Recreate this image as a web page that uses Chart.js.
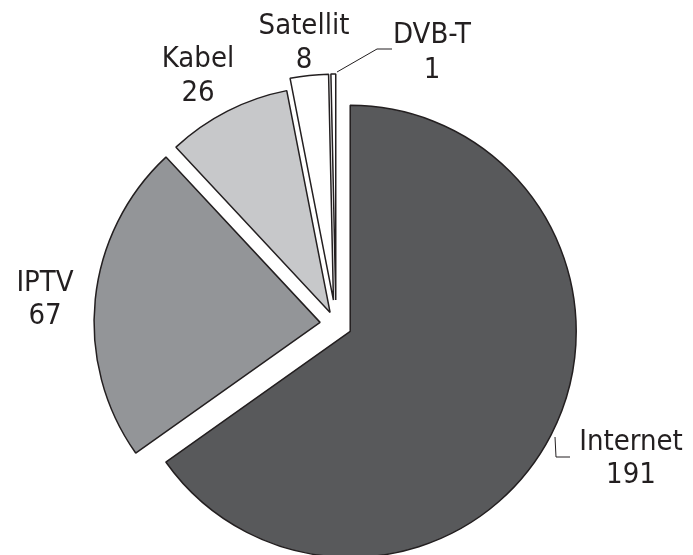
<!DOCTYPE html>
<html>
<head>
<meta charset="utf-8">
<script src="https://cdn.jsdelivr.net/npm/chart.js@4/dist/chart.umd.min.js"></script>
<style>
  html, body { margin: 0; padding: 0; background: #ffffff; }
  #wrap { width: 693px; height: 555px; }
</style>
</head>
<body>
<div id="wrap"><canvas id="pie" width="693" height="555"></canvas></div>
<script>
"use strict";

// Data
const labels = ["Internet", "IPTV", "Kabel", "Satellit", "DVB-T"];
const values = [191, 67, 26, 8, 1];

// Styling
const fills = ["#58595b", "#939598", "#c7c8ca", "#ffffff", "#ffffff"];
const explode = [16, 16, 13, 24, 24];   // px each slice is pulled out
const labelSpots = [                     // [x, baseline of name, baseline of value]
    [631, 450, 483],
    [45, 291, 324],
    [198, 67, 101],
    [304, 34, 68],
    [432, 43, 78]
];
const leaders = {
    0: [[555, 437], [556, 457], [570, 457]],
    4: [[337, 72], [377, 49], [392, 49]]
};

// pull slices out along their middle angle
const explodePlugin = {
    id: "explode",
    afterDatasetsUpdate(chart) {
        let arcs = chart.getDatasetMeta(0).data;
        arcs.forEach(function(arc, i) {
            let mid = (arc.startAngle + arc.endAngle) / 2;
            arc.x += Math.cos(mid) * explode[i];
            arc.y += Math.sin(mid) * explode[i];
        });
    }
};

// names and values next to the slices
const labelPlugin = {
    id: "sliceLabels",
    afterDraw(chart) {
        let ctx = chart.ctx;
        ctx.save();
        ctx.strokeStyle = "#231f20";
        ctx.lineWidth = 1;
        Object.keys(leaders).forEach(function(k) {
            let pts = leaders[k];
            ctx.beginPath();
            ctx.moveTo(pts[0][0], pts[0][1]);
            for (let j = 1; j < pts.length; j++) {
                ctx.lineTo(pts[j][0], pts[j][1]);
            }
            ctx.stroke();
        });
        ctx.fillStyle = "#231f20";
        ctx.font = '29px "DejaVu Sans Condensed", "DejaVu Sans", sans-serif';
        if ("fontStretch" in ctx) ctx.fontStretch = "condensed";
        ctx.textAlign = "center";
        ctx.textBaseline = "alphabetic";
        labels.forEach(function(name, i) {
            let spot = labelSpots[i];
            ctx.fillText(name, spot[0], spot[1]);
            ctx.fillText(String(values[i]), spot[0], spot[2]);
        });
        ctx.restore();
    }
};

let ctx_pie = document.getElementById("pie").getContext("2d");

let pieChart = new Chart(ctx_pie, {
    type: "pie",
    data: {
        labels: labels,
        datasets: [{
            data: values,
            backgroundColor: fills,
            borderColor: "#231f20",
            borderWidth: 1.5
        }]
    },
    options: {
        responsive: false,
        animation: false,
        radius: 226,
        layout: {
            padding: { left: 0, right: 21, top: 93, bottom: 0 }
        },
        plugins: {
            legend: { display: false },
            tooltip: { enabled: false }
        }
    },
    plugins: [explodePlugin, labelPlugin]
});
</script>
</body>
</html>
